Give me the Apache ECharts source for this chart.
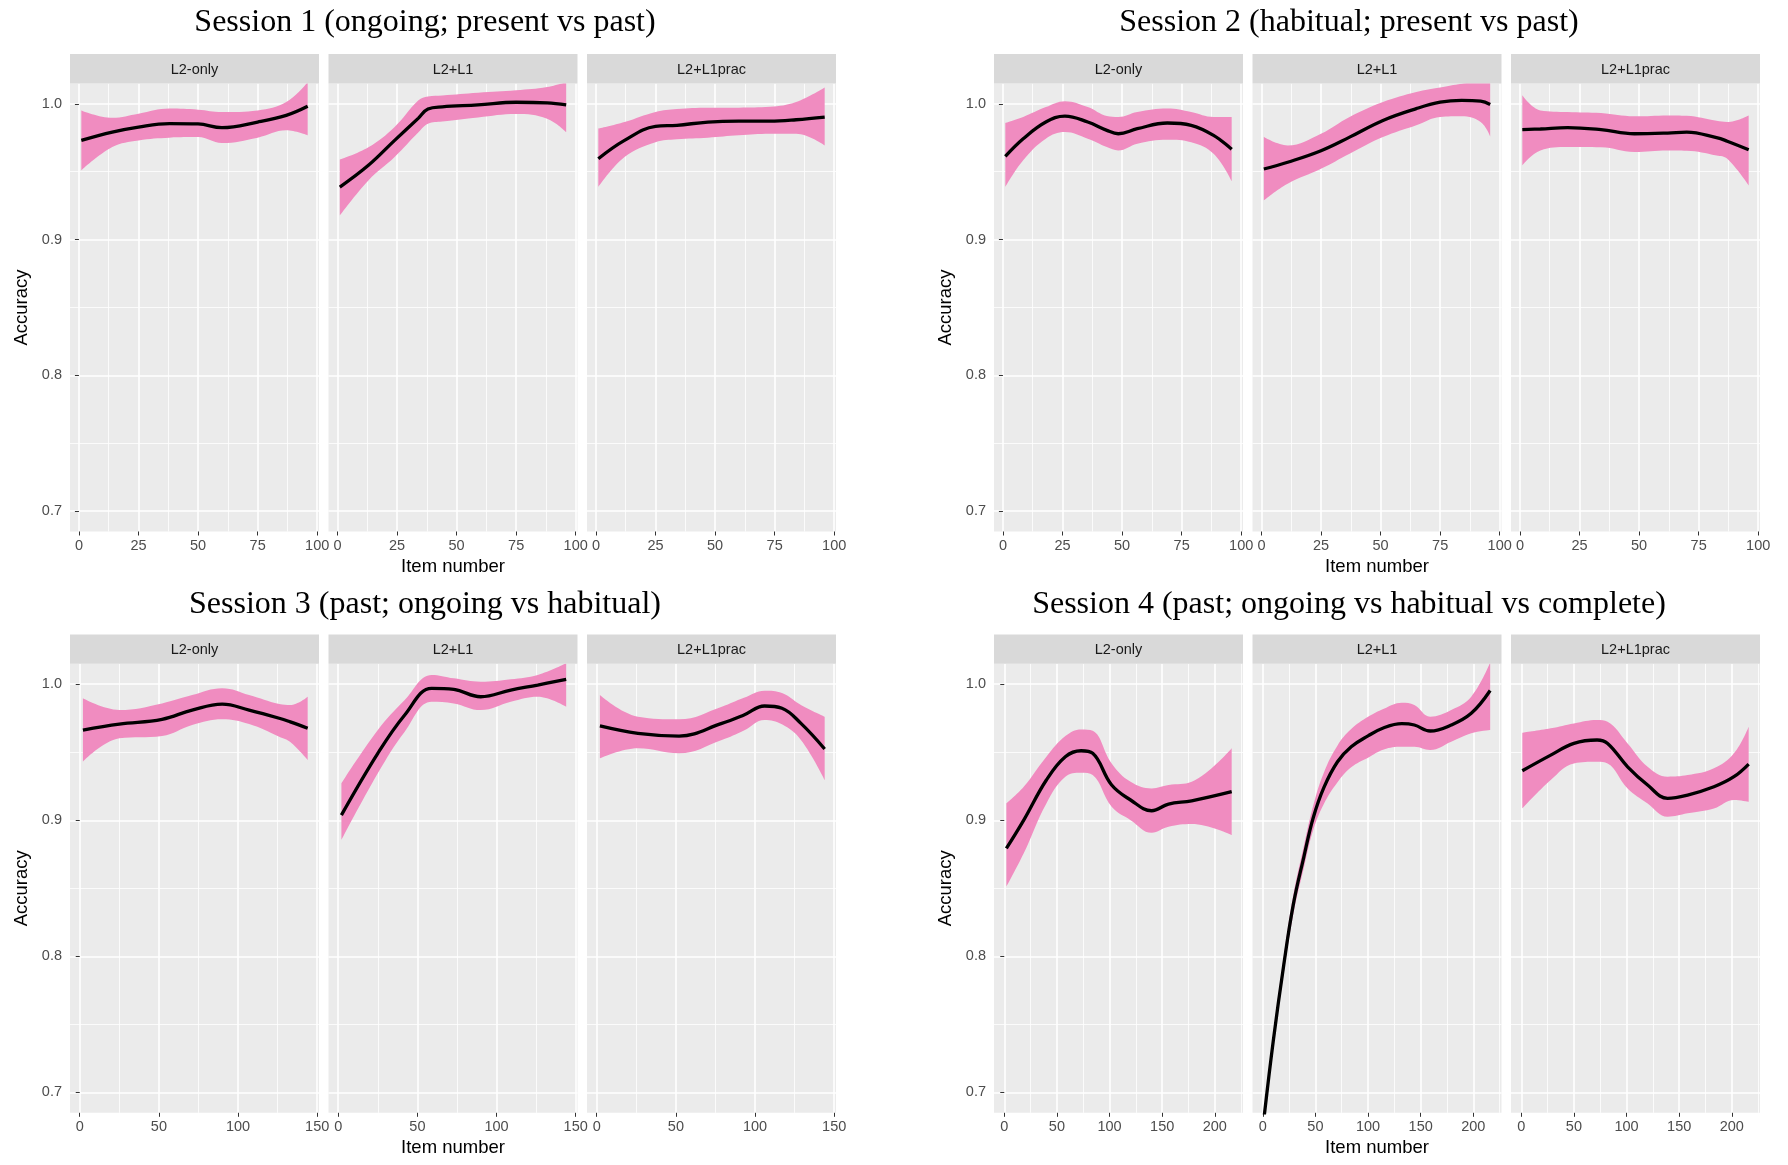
<!DOCTYPE html>
<html><head><meta charset="utf-8">
<script src="https://cdn.jsdelivr.net/npm/echarts@6/dist/echarts.min.js"></script>
<style>html,body{margin:0;padding:0;background:#fff}#c{width:1788px;height:1165px}</style>
</head><body><div id="c"></div>
<script>
// ---------------- DATA ----------------
const SESSION_TITLES = [
  'Session 1 (ongoing; present vs past)',
  'Session 2 (habitual; present vs past)',
  'Session 3 (past; ongoing vs habitual)',
  'Session 4 (past; ongoing vs habitual vs complete)'
];
const PANEL_NAMES = ['L2-only', 'L2+L1', 'L2+L1prac'];
const X_TITLE = 'Item number';
const Y_TITLE = 'Accuracy';

const Y_TICKS = [0.7, 0.8, 0.9, 1.0];
const Y_MINOR = [0.75, 0.85, 0.95];
const X_TICKS_100 = [0, 25, 50, 75, 100];
const X_MINOR_100 = [12.5, 37.5, 62.5, 87.5];
const X_TICKS_150 = [0, 50, 100, 150];
const X_MINOR_150 = [25, 75, 125];
const X_TICKS_200 = [0, 50, 100, 150, 200];
const X_MINOR_200 = [25, 75, 125, 175, 225];

// Session 1
const S1_A_x   = [1, 14, 25, 38, 50, 60, 75, 87, 96];
const S1_A_fit = [0.9731, 0.9792, 0.9829, 0.9854, 0.9852, 0.9825, 0.9866, 0.9915, 0.9982];
const S1_A_lo  = [0.9510, 0.9682, 0.9731, 0.9751, 0.9755, 0.9711, 0.9751, 0.9805, 0.9768];
const S1_A_hi  = [0.9952, 0.9898, 0.9928, 0.9965, 0.9957, 0.9940, 0.9952, 1.0013, 1.0160];

const S1_B_x   = [1, 13, 24, 34, 38, 44, 59, 75, 88, 96];
const S1_B_fit = [0.9387, 0.9547, 0.9731, 0.9895, 0.9962, 0.9978, 0.9992, 1.0012, 1.0008, 0.9993];
const S1_B_lo  = [0.9178, 0.9436, 0.9608, 0.9790, 0.9854, 0.9870, 0.9900, 0.9925, 0.9891, 0.9792];
const S1_B_hi  = [0.9589, 0.9680, 0.9830, 1.0026, 1.0055, 1.0062, 1.0082, 1.0100, 1.0124, 1.0160];

const S1_C_x   = [1, 12, 25, 34, 47, 60, 73, 84, 96];
const S1_C_fit = [0.9596, 0.9731, 0.9834, 0.9842, 0.9866, 0.9873, 0.9873, 0.9883, 0.9903];
const S1_C_lo  = [0.9387, 0.9608, 0.9718, 0.9740, 0.9751, 0.9768, 0.9780, 0.9780, 0.9694];
const S1_C_hi  = [0.9817, 0.9866, 0.9940, 0.9962, 0.9972, 0.9972, 0.9978, 1.0013, 1.0120];

// Session 2
const S2_A_x   = [1, 8.5, 18, 26, 35.6, 43.6, 48.4, 56.4, 69, 79, 88.4, 96];
const S2_A_fit = [0.9613, 0.9743, 0.9866, 0.9910, 0.9866, 0.9805, 0.9780, 0.9817, 0.9859, 0.9842, 0.9768, 0.9665];
const S2_A_lo  = [0.9387, 0.9584, 0.9743, 0.9792, 0.9743, 0.9682, 0.9657, 0.9707, 0.9736, 0.9718, 0.9633, 0.9431];
const S2_A_hi  = [0.9859, 0.9903, 0.9976, 1.0020, 0.9976, 0.9910, 0.9903, 0.9940, 0.9965, 0.9940, 0.9903, 0.9903];

const S2_B_x   = [1, 11, 25, 37, 51, 65, 75, 84, 92, 96];
const S2_B_fit = [0.9520, 0.9570, 0.9655, 0.9755, 0.9878, 0.9965, 1.0012, 1.0026, 1.0020, 0.9996];
const S2_B_lo  = [0.9289, 0.9412, 0.9522, 0.9633, 0.9755, 0.9842, 0.9903, 0.9908, 0.9866, 0.9760];
const S2_B_hi  = [0.9755, 0.9694, 0.9780, 0.9903, 1.0013, 1.0087, 1.0120, 1.0149, 1.0160, 1.0160];

const S2_C_x   = [1, 8.6, 20, 34, 48, 62, 70, 82.5, 87, 96];
const S2_C_fit = [0.9810, 0.9815, 0.9825, 0.9810, 0.9780, 0.9785, 0.9792, 0.9751, 0.9725, 0.9662];
const S2_C_lo  = [0.9547, 0.9657, 0.9682, 0.9680, 0.9645, 0.9657, 0.9655, 0.9620, 0.9596, 0.9400];
const S2_C_hi  = [1.0063, 0.9952, 0.9940, 0.9932, 0.9908, 0.9915, 0.9912, 0.9875, 0.9866, 0.9915];

// Session 3
const S3_A_x   = [2, 25, 52, 71, 90, 107, 126, 133, 144];
const S3_A_fit = [0.9663, 0.9707, 0.9742, 0.9810, 0.9854, 0.9810, 0.9750, 0.9723, 0.9676];
const S3_A_lo  = [0.9430, 0.9602, 0.9619, 0.9700, 0.9742, 0.9707, 0.9614, 0.9575, 0.9443];
const S3_A_hi  = [0.9896, 0.9810, 0.9859, 0.9920, 0.9970, 0.9920, 0.9854, 0.9847, 0.9908];

const S3_B_x   = [2, 25, 42, 59, 73, 90, 109, 126, 144];
const S3_B_fit = [0.9038, 0.9492, 0.9774, 0.9970, 0.9962, 0.9908, 0.9957, 0.9994, 1.0036];
const S3_B_lo  = [0.8854, 0.9345, 0.9651, 0.9871, 0.9859, 0.9810, 0.9871, 0.9908, 0.9835];
const S3_B_hi  = [0.9271, 0.9663, 0.9884, 1.0068, 1.0043, 1.0018, 1.0036, 1.0068, 1.0154];

const S3_C_x   = [2, 26, 52, 79, 93, 106, 117, 129, 144];
const S3_C_fit = [0.9693, 0.9639, 0.9619, 0.9712, 0.9774, 0.9840, 0.9823, 0.9712, 0.9524];
const S3_C_lo  = [0.9455, 0.9529, 0.9492, 0.9590, 0.9660, 0.9737, 0.9705, 0.9590, 0.9296];
const S3_C_hi  = [0.9920, 0.9761, 0.9742, 0.9835, 0.9900, 0.9952, 0.9935, 0.9847, 0.9761];

// Session 4
const S4_A_x   = [2, 18.5, 40, 58, 73, 84, 102, 120, 140, 156, 178, 216];
const S4_A_fit = [0.8793, 0.9001, 0.9296, 0.9467, 0.9511, 0.9492, 0.9259, 0.9149, 0.9070, 0.9119, 0.9143, 0.9210];
const S4_A_lo  = [0.8511, 0.8757, 0.9124, 0.9320, 0.9349, 0.9332, 0.9099, 0.9001, 0.8908, 0.8952, 0.8972, 0.8891];
const S4_A_hi  = [0.9124, 0.9246, 0.9467, 0.9619, 0.9668, 0.9658, 0.9418, 0.9283, 0.9234, 0.9259, 0.9283, 0.9529];

const S4_B_x   = [1, 10, 20, 29, 39, 48, 58, 71, 84, 100, 115, 132, 144, 159, 179, 198, 216];
const S4_B_fit = [0.680, 0.738, 0.794, 0.838, 0.873, 0.902, 0.924, 0.943, 0.954, 0.962, 0.968, 0.971, 0.970, 0.9656, 0.970, 0.9786, 0.9954];
const S4_B_lo  = [0.675, 0.733, 0.788, 0.831, 0.865, 0.893, 0.912, 0.928, 0.939, 0.946, 0.952, 0.954, 0.954, 0.9516, 0.9577, 0.9639, 0.9663];
const S4_B_hi  = [0.685, 0.743, 0.800, 0.845, 0.881, 0.911, 0.935, 0.955, 0.967, 0.976, 0.982, 0.9864, 0.9847, 0.9761, 0.981, 0.9908, 1.016];

const S4_C_x   = [1, 28, 50, 72, 82, 101, 120, 139, 158, 183, 202, 216];
const S4_C_fit = [0.9364, 0.9479, 0.9565, 0.9590, 0.9565, 0.9393, 0.9259, 0.9161, 0.9185, 0.9246, 0.9320, 0.9413];
const S4_C_lo  = [0.9087, 0.9296, 0.9418, 0.9430, 0.9418, 0.9234, 0.9124, 0.9026, 0.9051, 0.9087, 0.9149, 0.9136];
const S4_C_hi  = [0.9643, 0.9676, 0.9712, 0.9737, 0.9724, 0.9565, 0.9393, 0.9320, 0.9332, 0.9382, 0.9492, 0.9688];

// ---------------- LAYOUT / STYLE ----------------
const SANS = '"Liberation Sans", Arial, Helvetica, sans-serif';
const SERIF = '"Liberation Serif", "Times New Roman", serif';
const PINK = '#F08CC0';
const PANEL_W = 249;
const PANEL_STEP = 258.5;
const SM = 0.4;

const sessions = [
  {title: SESSION_TITLES[0], left0: 70,  top: 83.5, h: 448, stripTop: 54, titleX: 425, titleY: 6.5,
   xMin: -3.75, xMax: 100.75, xTicks: X_TICKS_100, xMinor: X_MINOR_100,
   panels: [[S1_A_x, S1_A_fit, S1_A_lo, S1_A_hi], [S1_B_x, S1_B_fit, S1_B_lo, S1_B_hi], [S1_C_x, S1_C_fit, S1_C_lo, S1_C_hi]]},
  {title: SESSION_TITLES[1], left0: 994, top: 83.5, h: 448, stripTop: 54, titleX: 1349, titleY: 6.5,
   xMin: -3.75, xMax: 100.75, xTicks: X_TICKS_100, xMinor: X_MINOR_100,
   panels: [[S2_A_x, S2_A_fit, S2_A_lo, S2_A_hi], [S2_B_x, S2_B_fit, S2_B_lo, S2_B_hi], [S2_C_x, S2_C_fit, S2_C_lo, S2_C_hi]]},
  {title: SESSION_TITLES[2], left0: 70,  top: 663.8, h: 449, stripTop: 634.5, titleX: 425, titleY: 588.5,
   xMin: -6.15, xMax: 151.15, xTicks: X_TICKS_150, xMinor: X_MINOR_150,
   panels: [[S3_A_x, S3_A_fit, S3_A_lo, S3_A_hi], [S3_B_x, S3_B_fit, S3_B_lo, S3_B_hi], [S3_C_x, S3_C_fit, S3_C_lo, S3_C_hi]]},
  {title: SESSION_TITLES[3], left0: 994, top: 663.8, h: 449, stripTop: 634.5, titleX: 1349, titleY: 588.5,
   xMin: -9.75, xMax: 226.75, xTicks: X_TICKS_200, xMinor: X_MINOR_200,
   panels: [[S4_A_x, S4_A_fit, S4_A_lo, S4_A_hi], [S4_B_x, S4_B_fit, S4_B_lo, S4_B_hi], [S4_C_x, S4_C_fit, S4_C_lo, S4_C_hi]]}
];

const grid = [], xAxis = [], yAxis = [], series = [], graphic = [], title = [];

sessions.forEach(function (s) {
  title.push({
    text: s.title, left: s.titleX, top: s.titleY, textAlign: 'center', padding: 0,
    textStyle: {fontFamily: SERIF, fontSize: 32, fontWeight: 'normal', color: '#000', lineHeight: 32}
  });
  s.panels.forEach(function (p, pi) {
    const g = grid.length;
    const left = s.left0 + pi * PANEL_STEP;
    grid.push({left: left, top: s.top, width: PANEL_W, height: s.h, show: true,
      backgroundColor: '#EBEBEB', borderWidth: 0, containLabel: false});
    xAxis.push({
      type: 'value', gridIndex: g, min: s.xMin, max: s.xMax, position: 'bottom',
      axisLine: {show: false},
      axisTick: {show: true, length: 4, lineStyle: {color: '#333333', width: 1}, customValues: s.xTicks},
      axisLabel: {show: true, customValues: s.xTicks, color: '#4D4D4D', fontSize: 14.5, fontFamily: SANS, margin: 7},
      splitLine: {show: true, lineStyle: {color: '#FFFFFF', width: 1.6}},
      name: pi === 1 ? X_TITLE : '', nameLocation: 'middle', nameGap: 26,
      nameTextStyle: {fontSize: 18.5, fontFamily: SANS, color: '#000'}
    });
    xAxis.push({
      type: 'value', gridIndex: g, min: s.xMin, max: s.xMax, position: 'top',
      axisLine: {show: false},
      axisTick: {show: false, customValues: s.xMinor},
      axisLabel: {show: false, customValues: s.xMinor},
      splitLine: {show: true, lineStyle: {color: '#FFFFFF', width: 0.8}}
    });
    yAxis.push({
      type: 'value', gridIndex: g, min: 0.685, max: 1.015, position: 'left',
      axisLine: {show: false},
      axisTick: {show: pi === 0, length: 4, lineStyle: {color: '#333333', width: 1}, customValues: Y_TICKS},
      axisLabel: {show: pi === 0, customValues: Y_TICKS, color: '#4D4D4D', fontSize: 14.5, fontFamily: SANS, margin: 8,
        formatter: function (v) { return Number(v).toFixed(1); }},
      splitLine: {show: true, lineStyle: {color: '#FFFFFF', width: 1.6}},
      name: pi === 0 ? Y_TITLE : '', nameLocation: 'middle', nameGap: 39, nameRotate: 90,
      nameTextStyle: {fontSize: 18.5, fontFamily: SANS, color: '#000'}
    });
    yAxis.push({
      type: 'value', gridIndex: g, min: 0.685, max: 1.015, position: 'right',
      axisLine: {show: false},
      axisTick: {show: false, customValues: Y_MINOR},
      axisLabel: {show: false, customValues: Y_MINOR},
      splitLine: {show: true, lineStyle: {color: '#FFFFFF', width: 0.8}}
    });
    // strip
    graphic.push({type: 'rect', silent: true, z: 1,
      shape: {x: left, y: s.stripTop, width: PANEL_W, height: s.top - s.stripTop},
      style: {fill: '#D9D9D9'}});
    graphic.push({type: 'text', silent: true, z: 2, x: left + PANEL_W / 2, y: (s.stripTop + s.top) / 2 + 1,
      style: {text: PANEL_NAMES[pi], fill: '#1A1A1A', font: '14.5px ' + SANS,
        align: 'center', verticalAlign: 'middle', textAlign: 'center', textVerticalAlign: 'middle'}});

    const xs = p[0], fit = p[1], lo = p[2], hi = p[3];
    // ribbon: lower edge + stacked band (data stored as [y, x] so the stack acts on y)
    series.push({
      type: 'line', xAxisIndex: 2 * g, yAxisIndex: 2 * g, stack: 'band' + g,
      encode: {x: 1, y: 0},
      data: xs.map(function (x, i) { return [lo[i], x]; }),
      symbol: 'none', smooth: SM, silent: true, lineStyle: {opacity: 0, width: 0}, z: 2
    });
    series.push({
      type: 'line', xAxisIndex: 2 * g, yAxisIndex: 2 * g, stack: 'band' + g,
      encode: {x: 1, y: 0},
      data: xs.map(function (x, i) { return [hi[i] - lo[i], x]; }),
      symbol: 'none', smooth: SM, silent: true, lineStyle: {opacity: 0, width: 0},
      areaStyle: {color: PINK, opacity: 1}, z: 2
    });
    series.push({
      type: 'line', xAxisIndex: 2 * g, yAxisIndex: 2 * g,
      data: xs.map(function (x, i) { return [x, fit[i]]; }),
      symbol: 'none', smooth: SM, silent: true,
      lineStyle: {color: '#000000', width: 3.3}, z: 3
    });
  });
});

const chart = echarts.init(document.getElementById('c'), null, {renderer: 'canvas'});
chart.setOption({
  animation: false,
  backgroundColor: '#FFFFFF',
  title: title,
  grid: grid,
  xAxis: xAxis,
  yAxis: yAxis,
  series: series,
  graphic: graphic
});
</script>
</body></html>
